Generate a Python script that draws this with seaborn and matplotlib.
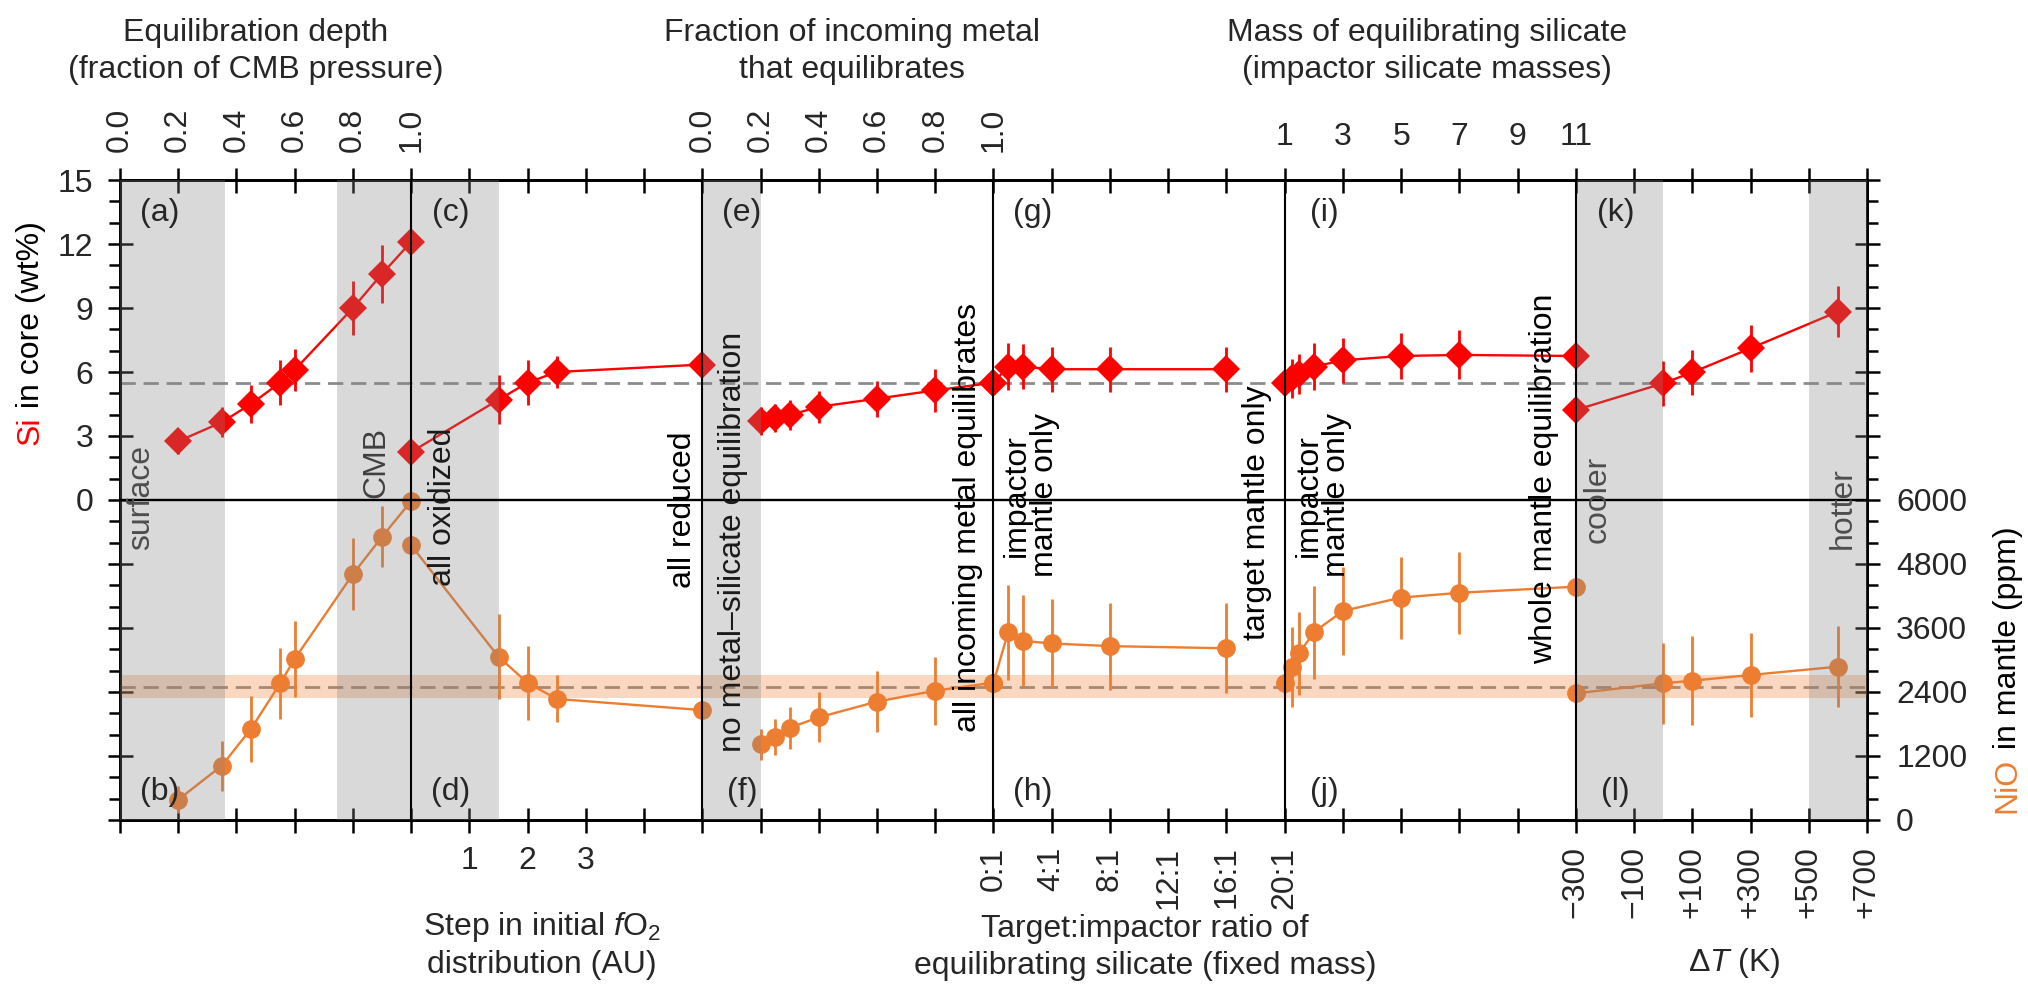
import matplotlib
matplotlib.use("Agg")
import matplotlib.pyplot as plt
import matplotlib.transforms as mtransforms
from matplotlib import font_manager as fm
from matplotlib.ticker import MultipleLocator
import seaborn as sns

# ---------------- data ----------------
# (a, b) equilibration depth (fraction of CMB pressure)
depth = [0.2, 0.35, 0.45, 0.55, 0.6, 0.8, 0.9, 1.0]
depth_si = [2.75, 3.65, 4.5, 5.5, 6.1, 9.0, 10.6, 12.1]
depth_si_err = [0.6, 0.7, 0.9, 1.05, 1.0, 1.25, 1.35, 0.0]
depth_nio = [380, 1020, 1710, 2560, 3020, 4610, 5310, 5980]
depth_nio_err = [250, 470, 620, 670, 720, 670, 570, 0]

# (c, d) step in initial fO2 distribution (AU): 0 = all oxidized, 5 = all reduced
fo2_step = [0, 1.5, 2, 2.5, 5]
fo2_si = [2.25, 4.7, 5.5, 6.0, 6.35]
fo2_si_err = [0, 1.15, 1.05, 0.75, 0]
fo2_nio = [5150, 3060, 2570, 2270, 2060]
fo2_nio_err = [0, 800, 690, 440, 0]

# (e, f) fraction of incoming metal that equilibrates
frac = [0.2, 0.25, 0.3, 0.4, 0.6, 0.8, 1.0]
frac_si = [3.72, 3.83, 3.98, 4.37, 4.75, 5.14, 5.5]
frac_si_err = [0.65, 0.65, 0.7, 0.75, 0.85, 1.0, 0]
frac_nio = [1420, 1560, 1730, 1925, 2220, 2425, 2575]
frac_nio_err = [290, 335, 390, 470, 565, 640, 0]

# (g, h) target:impactor ratio of equilibrating silicate (fixed mass)
ratio = [0, 1, 2, 4, 8, 16]
ratio_si = [5.5, 6.25, 6.25, 6.13, 6.13, 6.13]
ratio_si_err = [0, 1.1, 1.05, 1.05, 1.05, 1.05]
ratio_nio = [2575, 3520, 3360, 3310, 3260, 3220]
ratio_nio_err = [0, 890, 850, 840, 815, 840]

# (i, j) mass of equilibrating silicate (impactor silicate masses)
mass = [1, 1.25, 1.5, 2, 3, 5, 7, 11]
mass_si = [5.5, 5.7, 5.9, 6.25, 6.55, 6.75, 6.8, 6.75]
mass_si_err = [0, 0.9, 0.95, 1.1, 1.05, 1.1, 1.15, 0]
mass_nio = [2575, 2875, 3125, 3520, 3920, 4170, 4260, 4375]
mass_nio_err = [0, 750, 775, 875, 830, 770, 770, 0]

# (k, l) temperature offset ΔT (K)
dT = [-300, 0, 100, 300, 600]
dT_si = [4.22, 5.47, 5.98, 7.11, 8.83]
dT_si_err = [0, 1.05, 1.05, 1.1, 1.2]
dT_nio = [2375, 2562, 2612, 2719, 2875]
dT_nio_err = [0, 760, 840, 790, 760]

# present-day reference values
si_ref = 5.5
nio_ref = 2500
nio_ref_range = (2280, 2720)

# tick values of each sub-scale
depth_ticks = [0.0, 0.2, 0.4, 0.6, 0.8, 1.0]
frac_ticks = [0.0, 0.2, 0.4, 0.6, 0.8, 1.0]
mass_ticks = [1, 3, 5, 7, 9, 11]
fo2_ticks = [1, 2, 3]
ratio_ticks = [0, 4, 8, 12, 16, 20]
dT_ticks = [-300, -100, 100, 300, 500, 700]

# ---------------- shared x scale: six panels of five tick units each ----------------
PANELS = {  # origin on the common axis, value at origin, value per tick unit
    "depth": (0, 0.0, 0.2),
    "fo2": (5, 0.0, 1.0),
    "frac": (10, 0.0, 0.2),
    "ratio": (15, 0.0, 4.0),
    "mass": (20, 1.0, 2.0),
    "dT": (25, -300.0, 200.0),
}


def pos(panel, values):
    o, v0, step = PANELS[panel]
    if isinstance(values, (list, tuple)):
        return [o + (v - v0) / step for v in values]
    return o + (values - v0) / step


def has_font(name):
    try:
        fm.findfont(fm.FontProperties(family=name), fallback_to_default=False)
        return True
    except Exception:
        return False


sns.set_theme(style="ticks")
BASE = "Liberation Sans"
NARROW = "Liberation Sans Narrow" if has_font("Liberation Sans Narrow") else BASE
plt.rcParams["font.family"] = [BASE, "DejaVu Sans"]
plt.rcParams["mathtext.fontset"] = "custom"
plt.rcParams["mathtext.rm"] = NARROW
plt.rcParams["mathtext.it"] = NARROW + ":italic"
plt.rcParams["axes.unicode_minus"] = False

RED = "#ff0000"
ORANGE = "#ed7d31"
FS = 23

fig = plt.figure(figsize=(20.28, 9.9), dpi=100)
ax = fig.add_axes([0.05917, 0.17172, 0.86144, 0.64646])
axt = ax.twiny()
axr = ax.twinx()

# ---------------- series ----------------
si_series = [
    ("depth", depth, depth_si, depth_si_err),
    ("fo2", fo2_step, fo2_si, fo2_si_err),
    ("frac", frac, frac_si, frac_si_err),
    ("ratio", ratio, ratio_si, ratio_si_err),
    ("mass", mass, mass_si, mass_si_err),
    ("dT", dT, dT_si, dT_si_err),
]
nio_series = [
    ("depth", depth, depth_nio, depth_nio_err),
    ("fo2", fo2_step, fo2_nio, fo2_nio_err),
    ("frac", frac, frac_nio, frac_nio_err),
    ("ratio", ratio, ratio_nio, ratio_nio_err),
    ("mass", mass, mass_nio, mass_nio_err),
    ("dT", dT, dT_nio, dT_nio_err),
]

ax.axhline(si_ref, color="#8c8c8c", lw=2.0, dashes=(5.5, 2.8), zorder=1)
for panel, xv, yv, ev in si_series:
    xs = pos(panel, xv)
    ax.errorbar(xs, yv, yerr=ev, fmt="none", ecolor=RED, elinewidth=2.0, capsize=0, zorder=2)
    sns.lineplot(x=xs, y=yv, ax=ax, color=RED, marker="D", markersize=14,
                 markeredgewidth=0, linewidth=1.7, sort=False, estimator=None,
                 errorbar=None, zorder=3)

axr.axhline(nio_ref, color="#8c8c8c", lw=2.0, dashes=(5.5, 2.8), zorder=1)
axr.axhspan(*nio_ref_range, color=ORANGE, alpha=0.3, lw=0, zorder=1.5)
for panel, xv, yv, ev in nio_series:
    xs = pos(panel, xv)
    axr.errorbar(xs, yv, yerr=ev, fmt="none", ecolor=ORANGE, elinewidth=2.0, capsize=0, zorder=2)
    sns.lineplot(x=xs, y=yv, ax=axr, color=ORANGE, marker="o", markersize=13.5,
                 markeredgewidth=0, linewidth=1.7, sort=False, estimator=None,
                 errorbar=None, zorder=3)

# shaded parameter ranges, laid over the data
shades = [(0.0, 1.8), (3.73, 6.5), (10.0, 11.0), (25.0, 26.5), (29.0, 30.0)]
for x0, x1 in shades:
    axr.axvspan(x0, x1, color="#838383", alpha=0.3, lw=0, zorder=4)

for xb in [5, 10, 15, 20, 25]:
    axr.axvline(xb, color="black", lw=1.5, zorder=5)
axr.axhline(6000, color="black", lw=1.7, zorder=5)

# ---------------- axes limits & ticks ----------------
ax.set_xlim(0, 30)
axt.set_xlim(0, 30)
ax.set_ylim(-15, 15)
axr.set_ylim(0, 12000)

grid = list(range(31))
bottom_lab = [""] * 31
bottom_rot = [0] * 31
for v in fo2_ticks:
    bottom_lab[round(pos("fo2", v))] = str(v)
for v in ratio_ticks:
    i = round(pos("ratio", v))
    bottom_lab[i] = f"{v}:1"
    bottom_rot[i] = 90
for v in dT_ticks:
    i = round(pos("dT", v))
    bottom_lab[i] = ("\u2212" if v < 0 else "+") + str(abs(v))
    bottom_rot[i] = 90

top_lab = [""] * 31
top_rot = [0] * 31
for v in depth_ticks:
    i = round(pos("depth", v))
    top_lab[i] = f"{v:.1f}"
    top_rot[i] = 90
for v in frac_ticks:
    i = round(pos("frac", v))
    top_lab[i] = f"{v:.1f}"
    top_rot[i] = 90
for v in mass_ticks:
    top_lab[round(pos("mass", v))] = str(v)

ax.set_xticks(grid)
ax.set_xticklabels(bottom_lab)
for lab, r in zip(ax.get_xticklabels(), bottom_rot):
    lab.set_rotation(r)
axt.set_xticks(grid)
axt.set_xticklabels(top_lab)
for lab, r in zip(axt.get_xticklabels(), top_rot):
    lab.set_rotation(r)

si_ticks = list(range(-15, 16, 3))
ax.set_yticks(si_ticks)
ax.set_yticklabels([str(v) if v >= 0 else "" for v in si_ticks])
ax.yaxis.set_minor_locator(MultipleLocator(1))
nio_ticks = list(range(0, 12001, 1200))
axr.set_yticks(nio_ticks)
axr.set_yticklabels([str(v) if v <= 6000 else "" for v in nio_ticks])
axr.yaxis.set_minor_locator(MultipleLocator(400))

for a in (ax, axt, axr):
    for s in a.spines.values():
        s.set_linewidth(1.8)
        s.set_color("black")
    a.grid(False)
ax.tick_params(axis="x", which="major", direction="inout", length=18, width=1.8,
               labelsize=FS, pad=10, color="black")
axt.tick_params(axis="x", which="major", direction="inout", length=18, width=1.8,
                labelsize=FS, pad=11, color="black")
ax.tick_params(axis="y", which="major", direction="inout", length=18, width=1.8,
               labelsize=FS, pad=10, color="black")
ax.tick_params(axis="y", which="minor", direction="out", length=8, width=1.8, color="black")
axr.tick_params(axis="y", which="major", direction="inout", length=18, width=1.8,
                labelsize=FS, pad=12, color="black")
axr.tick_params(axis="y", which="minor", direction="out", length=8, width=1.8, color="black")
ax.tick_params(axis="x", which="minor", bottom=False)
axt.tick_params(axis="x", which="minor", top=False)

# ---------------- annotations ----------------
notes = [  # text, x, y (wt% scale), colour
    ("surface", 0.37, 0.1, "#4d4d4d"),
    ("CMB", 4.41, 1.78, "#404040"),
    ("all oxidized", 5.55, -0.33, "#1a1a1a"),
    ("all reduced", 9.67, -0.47, "black"),
    ("no metal\u2013silicate equilibration", 10.53, -1.97, "#1a1a1a"),
    ("all incoming metal equilibrates", 14.57, -0.8, "black"),
    ("impactor\nmantle only", 15.65, 0.23, "black"),
    ("target mantle only", 19.53, -0.61, "black"),
    ("impactor\nmantle only", 20.65, 0.23, "black"),
    ("whole mantle equilibration", 24.46, 0.98, "black"),
    ("cooler", 25.37, 0.05, "#4d4d4d"),
    ("hotter", 29.58, -0.37, "#4d4d4d"),
]
for s, x, y, c in notes:
    axr.text(x, y, s, transform=ax.transData, rotation=90, ha="center", va="center",
             multialignment="center", fontsize=FS, color=c, linespacing=0.92, zorder=6)

letters = "abcdefghijkl"
for k in range(6):
    xl = 5 * k + 0.68
    axr.text(xl, 13.45, f"({letters[2 * k]})", transform=ax.transData, ha="center",
             va="center", fontsize=FS, zorder=6)
    axr.text(xl, -13.7, f"({letters[2 * k + 1]})", transform=ax.transData, ha="center",
             va="center", fontsize=FS, zorder=6)

# scale titles above and below the panels
blend = mtransforms.blended_transform_factory(ax.transData, fig.transFigure)
titles = [
    ("Equilibration depth\n(fraction of CMB pressure)", 2.33, 0.948),
    ("Fraction of incoming metal\nthat equilibrates", 12.57, 0.948),
    ("Mass of equilibrating silicate\n(impactor silicate masses)", 22.45, 0.948),
    ("Step in initial $f$O$_2$\ndistribution (AU)", 7.25, 0.0455),
    ("Target:impactor ratio of\nequilibrating silicate (fixed mass)", 17.6, 0.0425),
    ("\u0394$T$ (K)", 27.72, 0.0268),
]
for s, x, y in titles:
    fig.text(x, y, s, transform=blend, ha="center", va="center", multialignment="center",
             fontsize=FS, family=[NARROW, "DejaVu Sans"], linespacing=1.3)

# two-colour axis titles, written piece by piece along the rotated baseline
fig.canvas.draw()
renderer = fig.canvas.get_renderer()


def stacked_title(x_fig, y_fig, parts):
    y = y_fig
    for s, c in parts:
        t = fig.text(x_fig, y, s, rotation=90, rotation_mode="anchor", ha="left",
                     va="baseline", color=c, fontsize=FS)
        bb = t.get_window_extent(renderer=renderer)
        y += bb.height / fig.bbox.height


stacked_title(0.0192, 0.5505, [("Si", RED), (" in core (wt%)", "black")])
stacked_title(0.994, 0.1788, [("NiO", ORANGE), (" in mantle (ppm)", "black")])

fig.savefig("out.png", dpi=100)
